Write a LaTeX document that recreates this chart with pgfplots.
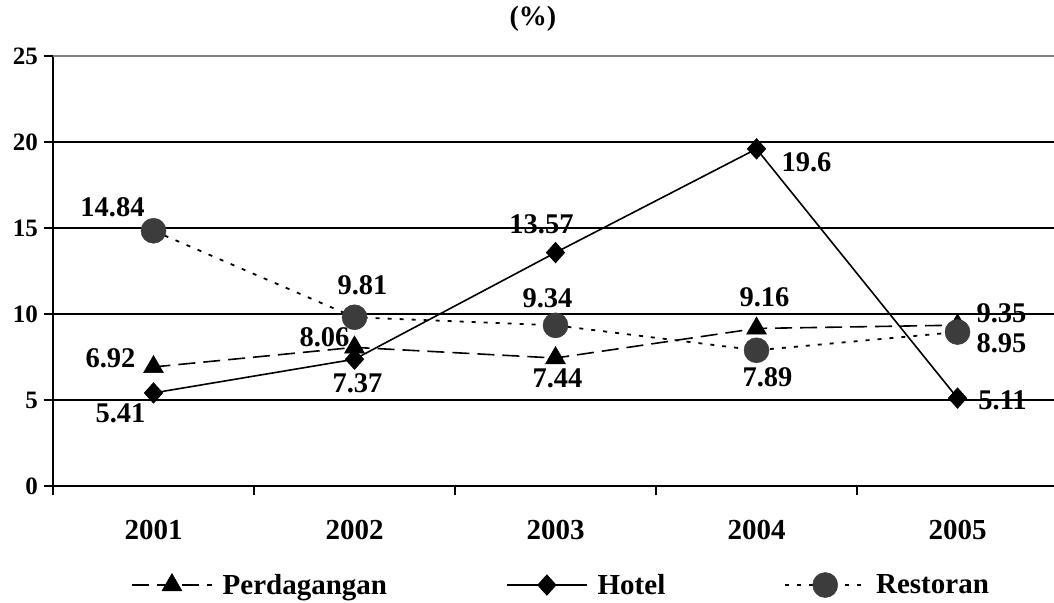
\documentclass[border=0pt]{standalone}
\usepackage{fontspec}
\setmainfont{Liberation Serif}
\usepackage{pgfplots}
\pgfplotsset{compat=1.18}
\definecolor{dotgray}{RGB}{60,60,60}
\definecolor{topgray}{RGB}{128,128,128}
\tikzset{lbl/.style={font=\bfseries\fontsize{28.5}{28.5}\selectfont, inner sep=0pt}}
\begin{document}
\begin{tikzpicture}
\path[use as bounding box] (-53pt,-116pt) rectangle (1001pt,486pt);
\begin{axis}[
  scale only axis, width=1001pt, height=430pt,
  xmin=-0.5, xmax=4.48, ymin=0, ymax=25,
  clip=false,
  axis x line*=bottom, axis y line*=left,
  axis line style={line width=2.2pt},
  /pgf/number format/assume math mode=true,
  xtick={-0.5,0.5,1.5,2.5,3.5}, xticklabels={},
  extra x ticks={0,1,2,3,4},
  extra x tick labels={2001,2002,2003,2004,2005},
  extra x tick style={major tick length=0pt},
  ytick={0,5,10,15,20},
  extra y ticks={25},
  extra y tick style={grid=major, major grid style={topgray, line width=1.6pt}},
  ymajorgrids,
  major grid style={black, line width=1.6pt},
  tick align=outside, major tick length=9pt,
  tick style={black, line width=1.6pt},
  yticklabel style={font=\bfseries\fontsize{25}{25}\selectfont, inner sep=0pt, anchor=east, xshift=-6pt},
  xticklabel style={font=\bfseries\fontsize{29}{29}\selectfont, inner sep=0pt, anchor=center, yshift=-44pt},
  title={(\%)},
  title style={at={(axis description cs:0.4795,1)}, anchor=center, yshift=31pt, font=\bfseries\fontsize{28}{28}\selectfont, inner sep=0pt},
  legend columns=3,
  legend style={at={(axis description cs:0.5075,-0.2303)}, anchor=center, draw=none, fill=none,
    font=\bfseries\fontsize{29}{29}\selectfont,
    /tikz/every odd column/.append style={column sep=8pt},
    /tikz/every even column/.append style={column sep=117pt}},
  legend image code/.code={\draw[mark repeat=2,mark phase=2,#1] plot coordinates {(0pt,0pt) (40pt,0pt) (80pt,0pt)};},
]
\addplot[black, line width=1.6pt, dash pattern=on 17pt off 8pt, mark=triangle*, mark size=11.5pt, mark options={solid, fill=black, line width=0.5pt}]
  coordinates {(0,6.92) (1,8.06) (2,7.44) (3,9.16) (4,9.35)};
\addlegendentry{Perdagangan}
\addplot[black, line width=1.6pt, mark=diamond*, mark size=10pt, mark options={solid, fill=black, line width=1pt, xscale=1.2}]
  coordinates {(0,5.41) (1,7.37) (2,13.57) (3,19.6) (4,5.11)};
\addlegendentry{Hotel}
\addplot[black, line width=1.8pt, dash pattern=on 4pt off 8pt, mark=*, mark size=12.5pt, mark options={solid, draw=dotgray, fill=dotgray, line width=0.5pt}]
  coordinates {(0,14.84) (1,9.81) (2,9.34) (3,7.89) (4,8.95)};
\addlegendentry{Restoran}
% Perdagangan labels
\node[lbl, xshift=-43pt, yshift=9pt]  at (axis cs:0,6.92) {6.92};
\node[lbl, xshift=-30pt, yshift=10pt] at (axis cs:1,8.06) {8.06};
\node[lbl, xshift=2pt,   yshift=-20pt] at (axis cs:2,7.44) {7.44};
\node[lbl, xshift=8pt,   yshift=31pt] at (axis cs:3,9.16) {9.16};
\node[lbl, xshift=44pt,  yshift=12pt] at (axis cs:4,9.35) {9.35};
% Hotel labels
\node[lbl, xshift=-33pt, yshift=-20pt] at (axis cs:0,5.41) {5.41};
\node[lbl, xshift=3pt,   yshift=-24pt] at (axis cs:1,7.37) {7.37};
\node[lbl, xshift=-14pt, yshift=28pt] at (axis cs:2,13.57) {13.57};
\node[lbl, xshift=50pt,  yshift=-13pt] at (axis cs:3,19.6) {19.6};
\node[lbl, xshift=45pt,  yshift=-2pt] at (axis cs:4,5.11) {5.11};
% Restoran labels
\node[lbl, xshift=-41pt, yshift=24pt] at (axis cs:0,14.84) {14.84};
\node[lbl, xshift=8pt,   yshift=32pt] at (axis cs:1,9.81) {9.81};
\node[lbl, xshift=-8pt,  yshift=27pt] at (axis cs:2,9.34) {9.34};
\node[lbl, xshift=11pt,  yshift=-27pt] at (axis cs:3,7.89) {7.89};
\node[lbl, xshift=44pt,  yshift=-11pt] at (axis cs:4,8.95) {8.95};
\end{axis}
\end{tikzpicture}
\end{document}
